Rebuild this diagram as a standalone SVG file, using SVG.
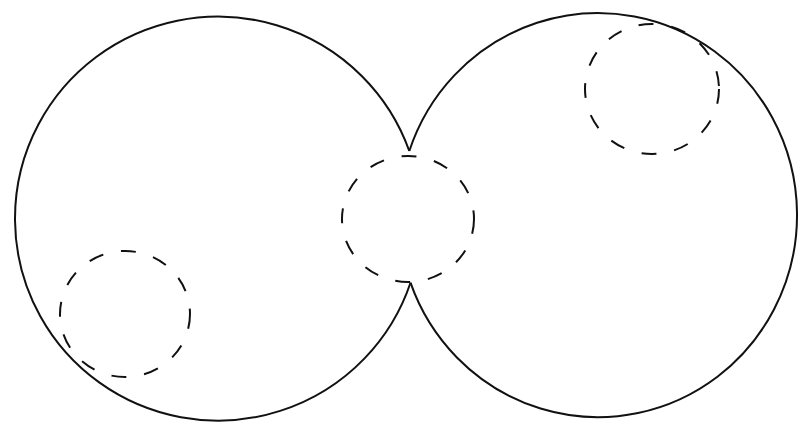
<svg xmlns="http://www.w3.org/2000/svg" width="800" height="422" viewBox="0 0 800 422">
<style>
.big{fill:none;stroke:#111;stroke-width:2;stroke-linejoin:miter}
.dash{fill:none;stroke:#111;stroke-width:2;stroke-dasharray:15 18}
</style>
<rect width="800" height="422" fill="#fff"/>
<g id="left-circle"><path class="big" d="M 409.3 151 A 203 202 0 1 0 410.5 282.7"/></g>
<g id="right-circle"><path class="big" d="M 409.3 151 A 199 202 0 1 1 410.5 282.7"/></g>
<g id="center-dashed"><ellipse class="dash" cx="408" cy="219" rx="66" ry="63"/></g>
<g id="left-dashed"><ellipse class="dash" cx="125" cy="314" rx="65" ry="63"/></g>
<g id="top-right-dashed"><ellipse class="dash" cx="652" cy="89" rx="67" ry="65"/></g>
<g id="connectors"></g>
</svg>
